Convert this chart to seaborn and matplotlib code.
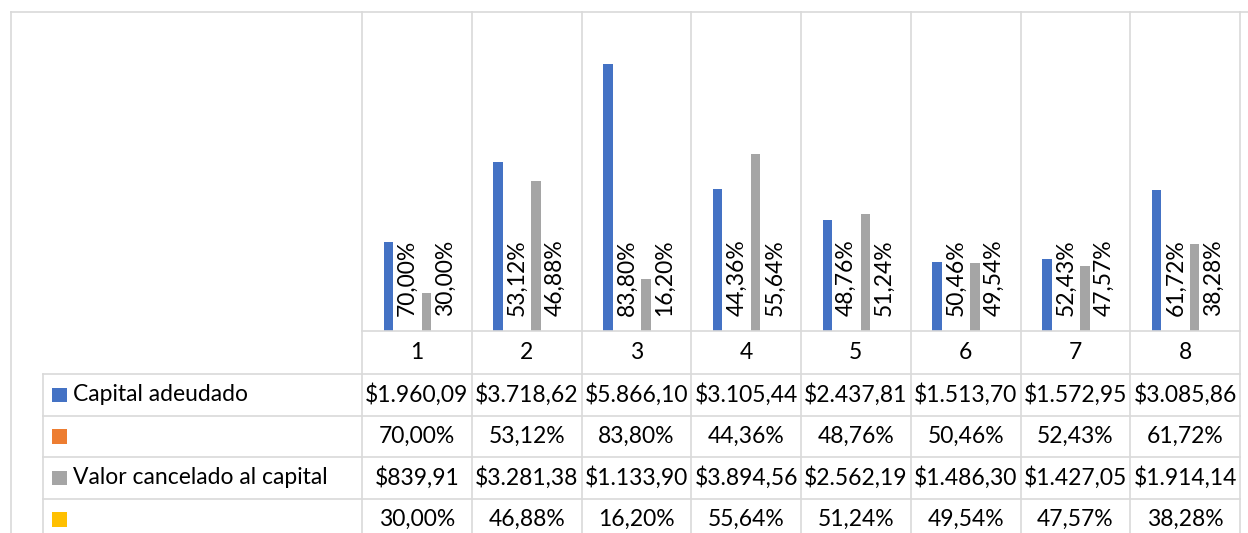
import matplotlib
matplotlib.use("Agg")
import matplotlib.pyplot as plt
import matplotlib.transforms as mtransforms
from matplotlib.lines import Line2D
import seaborn as sns
import pandas as pd

# --- data -------------------------------------------------------------
periodos = ["1", "2", "3", "4", "5", "6", "7", "8"]
capital_adeudado = [1960.09, 3718.62, 5866.10, 3105.44, 2437.81, 1513.70, 1572.95, 3085.86]
pct_capital = [0.7000, 0.5312, 0.8380, 0.4436, 0.4876, 0.5046, 0.5243, 0.6172]
valor_cancelado = [839.91, 3281.38, 1133.90, 3894.56, 2562.19, 1486.30, 1427.05, 1914.14]
pct_cancelado = [0.3000, 0.4688, 0.1620, 0.5564, 0.5124, 0.4954, 0.4757, 0.3828]

series_keys = ["capital", "pct_capital", "cancelado", "pct_cancelado"]
series_names = ["Capital adeudado", "", "Valor cancelado al capital", ""]
series_values = [capital_adeudado, pct_capital, valor_cancelado, pct_cancelado]
series_colors = ["#4472C4", "#ED7D31", "#A5A5A5", "#FFC000"]


def fmt_money(v):
    s = f"{v:,.2f}"
    s = s.replace(",", "X").replace(".", ",").replace("X", ".")
    return "$" + s


def fmt_pct(v):
    return f"{v * 100:.2f}%".replace(".", ",")


series_fmt = [fmt_money, fmt_pct, fmt_money, fmt_pct]

df = pd.DataFrame(
    [
        {"periodo": p, "serie": key, "valor": v}
        for key, vals in zip(series_keys, series_values)
        for p, v in zip(periodos, vals)
    ]
)

# --- figure -----------------------------------------------------------
W, H = 1248, 533
fig = plt.figure(figsize=(W / 100, H / 100), dpi=100)
plt.rcParams["font.family"] = ["Lato", "DejaVu Sans"]

GRID = "#D9D9D9"
LW = 1.2
FS = 16.5


def fy(py):
    return 1 - py / H


def fx(px):
    return px / W


plot_l, plot_r, plot_t, plot_b = 362, 1240, 12, 331
ax = fig.add_axes([fx(plot_l), fy(plot_b), fx(plot_r - plot_l), (plot_b - plot_t) / H])

sns.barplot(
    data=df, x="periodo", y="valor", hue="serie",
    order=periodos, hue_order=series_keys, palette=series_colors,
    width=0.6925, gap=0.5, saturation=1, errorbar=None, legend=False, ax=ax,
)

ax.set_ylim(0, 7000)
ax.set_xlim(-0.5, len(periodos) - 0.5)
ax.set_xlabel("")
ax.set_ylabel("")
ax.set_xticks([])
ax.set_yticks([])
for sp in ax.spines.values():
    sp.set_visible(False)

# percentage labels above the (flat) percentage bars
for idx in (1, 3):
    ax.bar_label(
        ax.containers[idx], labels=[fmt_pct(v) for v in series_values[idx]],
        rotation=90, padding=11, fontsize=FS, color="black",
    )

# --- frame, grid and data table ----------------------------------------
fig_px = mtransforms.Affine2D().scale(1 / W, -1 / H).translate(0, 1) + fig.transFigure
col_tr = mtransforms.blended_transform_factory(ax.transData, fig_px)


def hline(x0, x1, y, tr=fig_px):
    fig.add_artist(Line2D([x0, x1], [y, y], color=GRID, lw=LW, transform=tr, clip_on=False))


def vline(x, y0, y1, tr=fig_px):
    fig.add_artist(Line2D([x, x], [y0, y1], color=GRID, lw=LW, transform=tr, clip_on=False))


# chart border
hline(11, W + 5, 12)
vline(11, 12, H + 5)

# category boundaries running through the table
n = len(periodos)
for i in range(n + 1):
    vline(i - 0.5, plot_t, H + 5, tr=col_tr)

# axis line and table rows
row_lines = [374, 415.5, 457, 498.5, 540]
hline(-0.5, n - 0.5, plot_b, tr=col_tr)
table_left = 43
for y in row_lines:
    hline(table_left, plot_r, y)
vline(table_left, row_lines[0], H + 5)

# category row
cat_y = (plot_b + row_lines[0]) / 2
for i, p in enumerate(periodos):
    fig.text(i, cat_y, p, transform=col_tr, ha="center", va="center", fontsize=FS, color="black")

# data rows with legend keys
for r, (name, vals, color, fmt) in enumerate(zip(series_names, series_values, series_colors, series_fmt)):
    y0, y1 = row_lines[r], row_lines[r + 1]
    yc = (y0 + y1) / 2
    fig.add_artist(plt.Rectangle((52, yc - 7), 14.5, 14.5, transform=fig_px,
                                 facecolor=color, edgecolor="none"))
    if name:
        fig.text(73, yc, name, transform=fig_px, ha="left", va="center", fontsize=FS, color="black")
    for i, v in enumerate(vals):
        fig.text(i, yc, fmt(v), transform=col_tr, ha="center", va="center", fontsize=FS, color="black")

fig.savefig("out.png", dpi=100, facecolor="white")
